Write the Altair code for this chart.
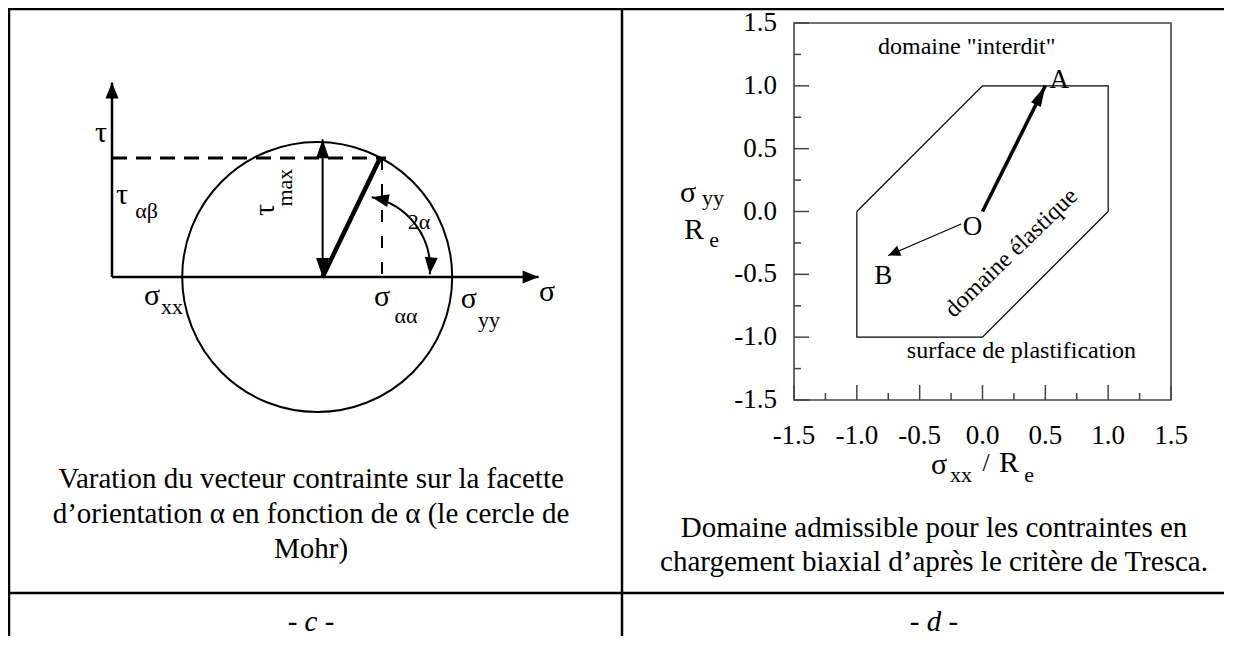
import math
import altair as alt
import pandas as pd

# ---------------- panel (c): Mohr circle, arbitrary stress units ----------------
SIGMA_AXIS_END = 15.8
TAU_AXIS_END = 7.2
CIRCLE_CENTER = 7.6
CIRCLE_RADIUS = 5.0
POLE = 7.8
TAU_MAX = 5.1
P_SIGMA = 9.93
P_TAU = 4.41
SIGMA_AA = 10.0
DASH_END = 10.15
ARC_CENTER_SIGMA = 9.11
ARC_CENTER_TAU = 0.33
ARC_RADIUS = 2.67
ARC_START_DEG = 11.0
ARC_END_DEG = 95.0

MOHR_BIG_TEXT = ["τ", "τ", "σ", "σ", "σ", "σ"]
MOHR_BIG_SIGMA = [-0.41, 0.37, 16.11, 1.48, 10.0, 13.22]
MOHR_BIG_TAU = [5.33, 3.04, -0.56, -0.70, -0.74, -0.81]
MOHR_SUB_TEXT = ["αβ", "xx", "αα", "yy", "2α"]
MOHR_SUB_SIGMA = [1.28, 2.22, 10.89, 13.96, 11.37]
MOHR_SUB_TAU = [2.43, -1.11, -1.44, -1.59, 2.04]
MOHR_ROT_TEXT = ["τ", "max"]
MOHR_ROT_SIGMA = [5.67, 6.41]
MOHR_ROT_TAU = [2.48, 3.31]

# ---------------- panel (d): Tresca domain, sigma / Re ----------------
HEX_X = [-1.0, -1.0, 0.0, 1.0, 1.0, 0.0, -1.0]
HEX_Y = [0.0, -1.0, -1.0, 0.0, 1.0, 1.0, 0.0]
O_POINT = (0.0, 0.0)
A_POINT = (0.5, 1.0)
B_START = (-0.17, -0.10)
B_POINT = (-0.75, -0.35)
MAJOR_TICKS = [-1.5, -1.0, -0.5, 0.0, 0.5, 1.0, 1.5]
MINOR_TICKS = [-1.25, -0.75, -0.25, 0.25, 0.75, 1.25]
TICK_LABELS = ["-1.5", "-1.0", "-0.5", "0.0", "0.5", "1.0", "1.5"]
AXIS_EDGE = -1.5
TRESCA_TEXT = ['domaine "interdit"', "surface de plastification"]
TRESCA_TEXT_X = [-0.125, 0.31]
TRESCA_TEXT_Y = [1.31, -1.11]
LETTER_TEXT = ["A", "O", "B"]
LETTER_X = [0.61, -0.08, -0.79]
LETTER_Y = [1.05, -0.12, -0.51]
ELASTIC_TEXT = ["domaine élastique"]
ELASTIC_X = [0.23]
ELASTIC_Y = [-0.33]

CAPTION_C = ["Varation du vecteur contrainte sur la facette",
             "d’orientation α en fonction de α (le cercle de",
             "Mohr)"]
CAPTION_D = ["Domaine admissible pour les contraintes en",
             "chargement biaxial d’après le critère de Tresca."]
TAGS = ["- c -", "- d -"]

# ---------------- layout ----------------
W, H = 1216, 628
FONT = "Liberation Serif"
MX = alt.Scale(domain=[0, 10], range=[104, 374], nice=False, zero=False)
MY = alt.Scale(domain=[0, 10], range=[269, -1], nice=False, zero=False)
TX = alt.Scale(domain=[-1.5, 1.5], range=[786, 1163], nice=False, zero=False)
TY = alt.Scale(domain=[-1.5, 1.5], range=[392, 15], nice=False, zero=False)
RAD = alt.Scale(type="linear", domain=[0, 10], range=[0, 270], zero=True, nice=False)


def seg_layer(rows, xs, ys, **mark):
    df = pd.DataFrame(rows, columns=["x1", "y1", "x2", "y2"])
    return alt.Chart(df).mark_rule(color="black", **mark).encode(
        x=alt.X("x1:Q", scale=xs, axis=None), x2="x2:Q",
        y=alt.Y("y1:Q", scale=ys, axis=None), y2="y2:Q")


def heads_layer(rows, xs, ys, length, width):
    df = pd.DataFrame(rows, columns=["x", "y", "ang"])
    w = (width / 2.0) / length
    shape = f"M0,0L{w:.3f},1L{-w:.3f},1Z"
    return alt.Chart(df).mark_point(shape=shape, size=(2 * length) ** 2, filled=True,
                                    color="black", opacity=1, strokeWidth=0).encode(
        x=alt.X("x:Q", scale=xs, axis=None),
        y=alt.Y("y:Q", scale=ys, axis=None),
        angle=alt.Angle("ang:Q", scale=None))


def text_layer(texts, xv, yv, xs, ys, size, angle=0, italic=False):
    df = pd.DataFrame({"t": texts, "x": xv, "y": yv})
    kw = dict(font=FONT, fontSize=size, align="center", baseline="middle", color="black")
    if angle:
        kw["angle"] = angle
    return alt.Chart(df).mark_text(**kw).encode(
        x=alt.X("x:Q", scale=xs, axis=None), y=alt.Y("y:Q", scale=ys, axis=None), text="t:N")


def heading(angle_deg):
    return (math.degrees(angle_deg) + 360) % 360


one = pd.DataFrame({"a": [0]})


def vtext(s, x, y, size, italic=False, align="center"):
    kw = dict(font=FONT, fontSize=size, align=align, baseline="middle", color="black", text=s)
    if italic:
        kw["fontStyle"] = "italic"
    return alt.Chart(one).mark_text(**kw).encode(x=alt.value(x), y=alt.value(y))


def vrule(x, y, x2=None, y2=None):
    enc = dict(x=alt.value(x), y=alt.value(y))
    if x2 is not None:
        enc["x2"] = alt.value(x2)
    if y2 is not None:
        enc["y2"] = alt.value(y2)
    return alt.Chart(one).mark_rule(color="black", strokeWidth=2.5).encode(**enc)


layers = []

# table frame
layers += [vrule(0, 1, x2=W), vrule(1, 0, y2=H), vrule(614, 0, y2=H), vrule(0, 585, x2=W)]

# ---- Mohr panel ----
layers.append(seg_layer([[0, 0, SIGMA_AXIS_END, 0], [0, 0, 0, TAU_AXIS_END]], MX, MY, strokeWidth=2.5))
layers.append(seg_layer([[0, P_TAU, DASH_END, P_TAU]], MX, MY, strokeWidth=3, strokeDash=[15, 9]))
layers.append(seg_layer([[SIGMA_AA, P_TAU, SIGMA_AA, 0]], MX, MY, strokeWidth=2, strokeDash=[12, 14]))
layers.append(seg_layer([[POLE, 0, POLE, TAU_MAX]], MX, MY, strokeWidth=2))
layers.append(seg_layer([[POLE, 0, P_SIGMA, P_TAU]], MX, MY, strokeWidth=4.5))

circ = pd.DataFrame({"x": [CIRCLE_CENTER, ARC_CENTER_SIGMA], "y": [0.0, ARC_CENTER_TAU],
                     "r": [CIRCLE_RADIUS, ARC_RADIUS], "r2": [0.0, ARC_RADIUS],
                     "t0": [0.0, math.radians(ARC_START_DEG)],
                     "t1": [2 * math.pi, math.radians(ARC_END_DEG)]})
layers.append(alt.Chart(circ).mark_arc(filled=False, stroke="black", strokeWidth=2).encode(
    x=alt.X("x:Q", scale=MX, axis=None), y=alt.Y("y:Q", scale=MY, axis=None),
    theta=alt.Theta("t0:Q", scale=None), theta2="t1:Q",
    radius=alt.Radius("r:Q", scale=RAD), radius2="r2:Q"))

a0, a1 = math.radians(ARC_START_DEG), math.radians(ARC_END_DEG)
arc_p0 = (ARC_CENTER_SIGMA + ARC_RADIUS * math.sin(a0), ARC_CENTER_TAU + ARC_RADIUS * math.cos(a0))
arc_p1 = (ARC_CENTER_SIGMA + ARC_RADIUS * math.sin(a1), ARC_CENTER_TAU + ARC_RADIUS * math.cos(a1))
layers.append(heads_layer([[SIGMA_AXIS_END, 0, 90], [0, TAU_AXIS_END, 0]], MX, MY, 16, 13))
layers.append(heads_layer([[POLE, TAU_MAX, 0], [POLE, 0, 180]], MX, MY, 19, 13))
layers.append(heads_layer([[arc_p0[0], arc_p0[1], (ARC_START_DEG + 270) % 360],
                           [arc_p1[0], arc_p1[1], (ARC_END_DEG + 90) % 360]], MX, MY, 17, 13))

layers.append(text_layer(MOHR_BIG_TEXT, MOHR_BIG_SIGMA, MOHR_BIG_TAU, MX, MY, 30))
layers.append(text_layer(MOHR_SUB_TEXT, MOHR_SUB_SIGMA, MOHR_SUB_TAU, MX, MY, 22))
layers.append(text_layer(MOHR_ROT_TEXT[:1], MOHR_ROT_SIGMA[:1], MOHR_ROT_TAU[:1], MX, MY, 30, angle=270))
layers.append(text_layer(MOHR_ROT_TEXT[1:], MOHR_ROT_SIGMA[1:], MOHR_ROT_TAU[1:], MX, MY, 22, angle=270))

# ---- Tresca panel ----
box = pd.DataFrame({"x": [-1.5], "x2": [1.5], "y": [-1.5], "y2": [1.5]})
layers.append(alt.Chart(box).mark_rect(filled=False, stroke="#444444", strokeWidth=1.6).encode(
    x=alt.X("x:Q", scale=TX, axis=None), x2="x2:Q",
    y=alt.Y("y:Q", scale=TY, axis=None), y2="y2:Q"))

maj = pd.DataFrame({"v": MAJOR_TICKS, "lab": TICK_LABELS, "edge": [AXIS_EDGE] * len(MAJOR_TICKS)})
mnr = pd.DataFrame({"v": MINOR_TICKS, "edge": [AXIS_EDGE] * len(MINOR_TICKS)})
for df, ln in ((maj, 15), (mnr, 7)):
    layers.append(alt.Chart(df).mark_rule(color="#444444", strokeWidth=1.5, x2Offset=ln).encode(
        x=alt.X("edge:Q", scale=TX, axis=None), x2="edge:Q",
        y=alt.Y("v:Q", scale=TY, axis=None)))
    layers.append(alt.Chart(df).mark_rule(color="#444444", strokeWidth=1.5, y2Offset=-ln).encode(
        y=alt.Y("edge:Q", scale=TY, axis=None), y2="edge:Q",
        x=alt.X("v:Q", scale=TX, axis=None)))
layers.append(alt.Chart(maj).mark_text(font=FONT, fontSize=27, align="right", baseline="middle",
                                       dx=-17, color="black").encode(
    x=alt.X("edge:Q", scale=TX, axis=None), y=alt.Y("v:Q", scale=TY, axis=None), text="lab:N"))
layers.append(alt.Chart(maj).mark_text(font=FONT, fontSize=27, align="center", baseline="middle",
                                       dy=36, color="black").encode(
    x=alt.X("v:Q", scale=TX, axis=None), y=alt.Y("edge:Q", scale=TY, axis=None), text="lab:N"))

hexdf = pd.DataFrame({"x": HEX_X, "y": HEX_Y, "i": list(range(len(HEX_X)))})
layers.append(alt.Chart(hexdf).mark_line(color="black", strokeWidth=1.2).encode(
    x=alt.X("x:Q", scale=TX, axis=None), y=alt.Y("y:Q", scale=TY, axis=None), order="i:Q"))

layers.append(seg_layer([[O_POINT[0], O_POINT[1], A_POINT[0], A_POINT[1]]], TX, TY, strokeWidth=3.5))
layers.append(seg_layer([[B_START[0], B_START[1], B_POINT[0], B_POINT[1]]], TX, TY, strokeWidth=1.2))
ang_a = heading(math.atan2(A_POINT[0] - O_POINT[0], A_POINT[1] - O_POINT[1]))
ang_b = heading(math.atan2(B_POINT[0] - B_START[0], B_POINT[1] - B_START[1]))
layers.append(heads_layer([[A_POINT[0], A_POINT[1], ang_a]], TX, TY, 21, 11))
layers.append(heads_layer([[B_POINT[0], B_POINT[1], ang_b]], TX, TY, 12, 11))

layers.append(text_layer(TRESCA_TEXT, TRESCA_TEXT_X, TRESCA_TEXT_Y, TX, TY, 24))
layers.append(text_layer(LETTER_TEXT, LETTER_X, LETTER_Y, TX, TY, 27))
layers.append(text_layer(ELASTIC_TEXT, ELASTIC_X, ELASTIC_Y, TX, TY, 24, angle=316))

# axis titles of panel d
layers += [vtext("σ", 680, 185, 30), vtext("yy", 705, 190, 22),
           vtext("R", 686, 222, 30), vtext("e", 706, 232, 22),
           vtext("σ", 931, 457, 30), vtext("xx", 953, 467, 22), vtext("/", 978, 455, 26),
           vtext("R", 1001, 455, 30), vtext("e", 1021, 467, 22)]

# captions
for i, line in enumerate(CAPTION_C):
    layers.append(vtext(line, 303, 471 + 35 * i, 29))
for i, line in enumerate(CAPTION_D):
    layers.append(vtext(line, 926, 520 + 34 * i, 29))
layers.append(vtext(TAGS[0], 303, 614, 29, italic=True))
layers.append(vtext(TAGS[1], 926, 614, 29, italic=True))

chart = alt.layer(*layers).resolve_scale(x="independent", y="independent").properties(
    width=W, height=H, padding=0, autosize="none", background="white"
).configure_view(stroke=None)

chart.save("out.html", embed_options={"renderer": "svg", "actions": False})
